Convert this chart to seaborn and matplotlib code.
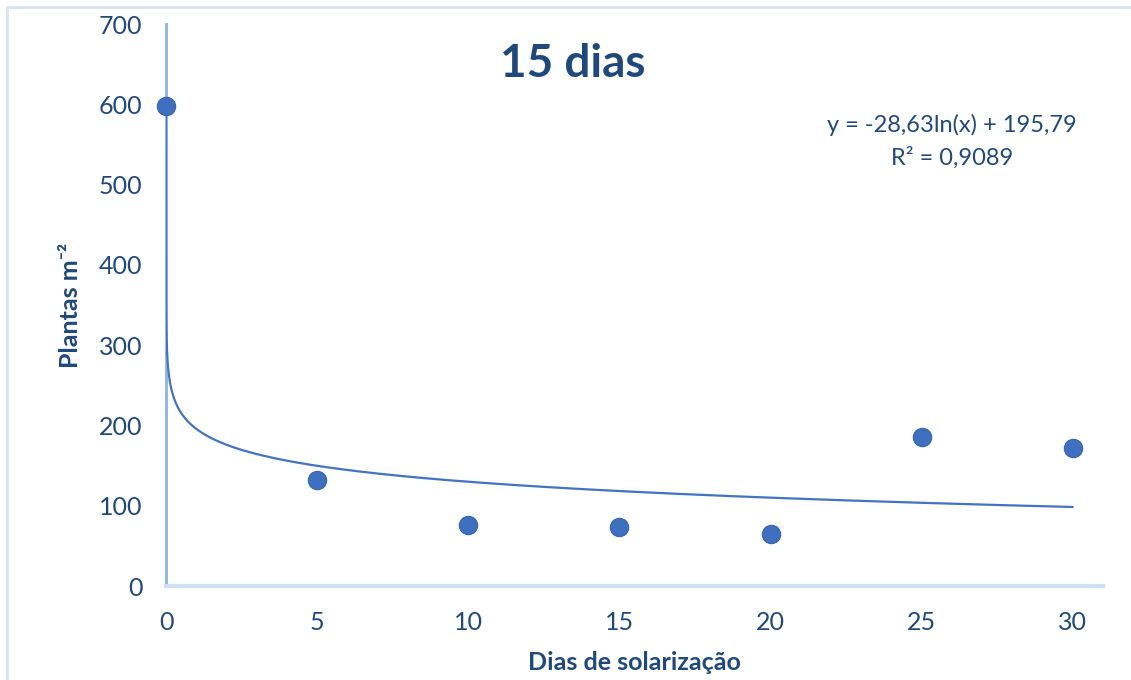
import numpy as np
import pandas as pd
import matplotlib
matplotlib.use("Agg")
import matplotlib.pyplot as plt
import seaborn as sns
from matplotlib.patches import Rectangle

# Observed plant densities per solarization period
dias = [0, 5, 10, 15, 20, 25, 30]
plantas = [598, 132, 76, 74, 65, 186, 172]

# Logarithmic trend: y = a*ln(x) + b
coef_a = -28.63
coef_b = 195.79
r2 = 0.9089

x_ticks = [0, 5, 10, 15, 20, 25, 30]
y_ticks = [0, 100, 200, 300, 400, 500, 600, 700]

titulo = "15 dias"
rotulo_x = "Dias de solarização"
rotulo_y = "Plantas m⁻²"

sns.set_theme(style="white")
plt.rcParams["font.family"] = ["Lato", "DejaVu Sans"]

texto = "#1f497d"
azul = "#3f70c0"
linha = "#4472c4"

W, H = 1131, 680
fig = plt.figure(figsize=(W / 100, H / 100), dpi=100)
ax = fig.add_axes([166 / W, 1 - 586 / H, (1103 - 166) / W, (586 - 24) / H])

# Trend curve, starting where it reaches the first observation
x_start = np.exp((plantas[0] - coef_b) / coef_a)
xs = np.concatenate([np.geomspace(x_start, 1, 400), np.linspace(1, dias[-1], 400)[1:]])
curva = pd.DataFrame({"x": xs, "y": coef_a * np.log(xs) + coef_b})
sns.lineplot(data=curva, x="x", y="y", ax=ax, color=linha, linewidth=1.6,
             zorder=3, estimator=None, sort=False)

df = pd.DataFrame({"dias": dias, "plantas": plantas})
sns.scatterplot(data=df, x="dias", y="plantas", ax=ax, s=175, color=azul,
                edgecolor="#3565b0", linewidth=0.8, zorder=4, clip_on=False)

ax.set_xlim(0, 31)
ax.set_ylim(0, 700)
ax.set_xticks(x_ticks)
ax.set_yticks(y_ticks)
ax.tick_params(axis="both", length=0, labelsize=18, colors=texto)
ax.tick_params(axis="x", pad=18)
ax.tick_params(axis="y", pad=17)

for s in ["top", "right"]:
    ax.spines[s].set_visible(False)
ax.spines["left"].set_color("#8db3e2")
ax.spines["left"].set_linewidth(2)
ax.spines["bottom"].set_color("#d0e0f2")
ax.spines["bottom"].set_linewidth(3)

ax.set_xlabel(rotulo_x, fontsize=18, fontweight="bold", color=texto, labelpad=12)
ax.set_ylabel(rotulo_y, fontsize=18, fontweight="bold", color=texto, labelpad=12)

fig.text(573 / W, 1 - 64 / H, titulo, ha="center", va="center",
         fontsize=33, fontweight="bold", color=texto)

eq = f"y = {coef_a:.2f}ln(x) + {coef_b:.2f}".replace(".", ",")
rr = f"R² = {r2:.4f}".replace(".", ",")
fig.text(952 / W, 1 - 125 / H, eq, ha="center", va="center", fontsize=17, color=texto)
fig.text(952 / W, 1 - 158 / H, rr, ha="center", va="center", fontsize=17, color=texto)

# Chart frame
fig.patches.append(Rectangle((7 / W, -0.05), 1.1, 1 - 7 / H + 0.05,
                             transform=fig.transFigure, fill=False,
                             edgecolor="#d6e4f5", linewidth=2))

fig.savefig("out.png", dpi=100, facecolor="white")
